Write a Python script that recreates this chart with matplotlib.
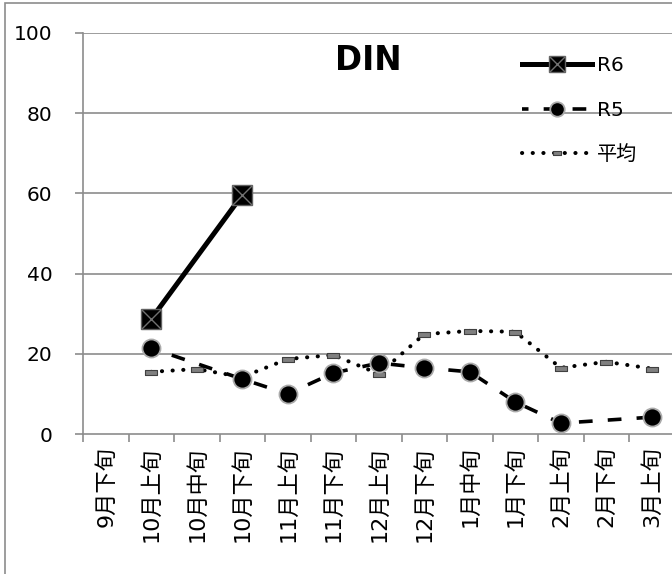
import numpy as np
import matplotlib
matplotlib.use('Agg')
from matplotlib import pyplot as plt
from matplotlib.patches import Rectangle

plt.rcParams['font.family'] = ['DejaVu Sans', 'Noto Sans CJK JP']

# data
categories = ['9月下旬', '10月上旬', '10月中旬', '10月下旬', '11月上旬', '11月下旬',
              '12月上旬', '12月下旬', '1月中旬', '1月下旬', '2月上旬', '2月下旬', '3月上旬']
r6  = [np.nan, 28.7, np.nan, 59.6, np.nan, np.nan, np.nan, np.nan, np.nan, np.nan, np.nan, np.nan, np.nan]
r5  = [np.nan, 21.4, np.nan, 13.7, 10.0, 15.2, 17.7, 16.5, 15.5, 8.0, 2.7, np.nan, 4.2]
avg = [np.nan, 15.5, 16.2, 14.2, 18.7, 19.7, 15.0, 24.9, 25.7, 25.5, 16.5, 18.0, 16.3]
yticks = [0, 20, 40, 60, 80, 100]

GRAY = '#8c8c8c'

def valid(vals):
    # keep only points with a value so that lines span the gaps (like excel)
    xs = [i for i, v in enumerate(vals) if not np.isnan(v)]
    ys = [vals[i] for i in xs]
    return xs, ys

fig = plt.figure(figsize=(6.72, 5.74), dpi=100)
ax = fig.add_axes([83/672, 1-434/574, (674.5-83)/672, (434-33)/574])

# outer chart frame (cut off on the right and bottom)
fig.patches.append(Rectangle((5/672, -0.2), 2.0, 1.2 - 3/574, transform=fig.transFigure,
                             fill=False, edgecolor=GRAY, lw=1.2, zorder=0))

for t in yticks[1:]:
    ax.axhline(t, color=GRAY, lw=1.2, zorder=1)

rect = [(-1, -0.45), (1, -0.45), (1, 0.45), (-1, 0.45), (-1, -0.45)]

x, y = valid(avg)
l_avg, = ax.plot(x, y, color='black', lw=2.9, linestyle=(0, (0.05, 2.6)), dash_capstyle='round',
                 marker=rect, markersize=8, markerfacecolor='#808080', markeredgecolor='#404040',
                 markeredgewidth=0.8, zorder=3)

x, y = valid(r5)
l_r5, = ax.plot(x, y, color='black', lw=2.6, linestyle=(2, (3.8, 4.2)),
                marker='o', markersize=13, markerfacecolor='black', markeredgecolor='#aaaaaa',
                markeredgewidth=1.3, zorder=4)

x, y = valid(r6)
l_r6, = ax.plot(x, y, color='black', lw=3.6, marker='s', markersize=15,
                markerfacecolor='black', markeredgecolor='#606060', markeredgewidth=1.0, zorder=5)
l_r6x, = ax.plot(x, y, linestyle='none', marker='x', markersize=14,
                 markeredgecolor='#707070', markeredgewidth=1.0, zorder=6)

ax.set_ylim(0, 100)
ax.set_xlim(-0.5, len(categories) - 0.5)
ax.set_yticks(yticks)
ax.set_xticks(range(len(categories)))
ax.set_xticklabels(categories, rotation=90, ha='center', va='top', fontsize=16)
ax.set_xticks(np.arange(-0.5, len(categories), 1.0), minor=True)
ax.tick_params(axis='x', which='major', length=0, pad=9)
ax.tick_params(axis='x', which='minor', length=5.5, color=GRAY, width=1.2, direction='out')
ax.tick_params(axis='y', length=6, color=GRAY, width=1.2, pad=16, labelsize=14.5)

for s in ['top', 'right']:
    ax.spines[s].set_visible(False)
for s in ['left', 'bottom']:
    ax.spines[s].set_color(GRAY)
    ax.spines[s].set_linewidth(1.2)

fig.text(368/672, 1-60/574, 'DIN', fontsize=23.5, fontweight='bold', ha='center', va='center')

ax.legend([(l_r6, l_r6x), l_r5, l_avg], ['R6', 'R5', '平均'],
          loc='upper left', bbox_to_anchor=(522/672, 1-56/574), bbox_transform=fig.transFigure,
          frameon=False, fontsize=14.5, handlelength=3.5, handletextpad=0.2,
          labelspacing=1.27, borderpad=0, borderaxespad=0, markerscale=0.8)

fig.savefig('out.png', dpi=100)
